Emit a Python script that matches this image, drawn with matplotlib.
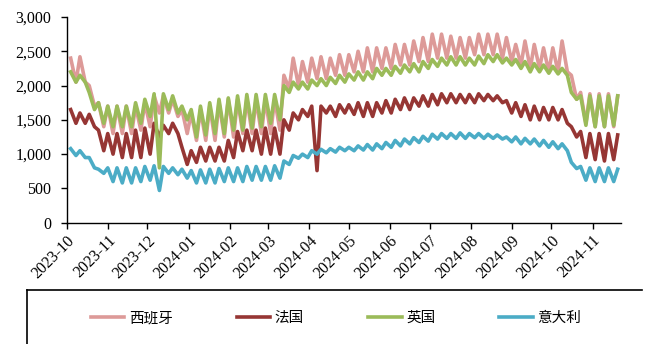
import numpy as np
import pandas as pd
import matplotlib
matplotlib.use("Agg")
import matplotlib.pyplot as plt
import matplotlib.dates as mdates
from matplotlib.ticker import FuncFormatter
from matplotlib.lines import Line2D

# ----------------------------------------------------
# Data: weekly high (weekday) / low (weekend) levels
# weeks start on Monday 2023-10-02; the last week has only its high value
# ----------------------------------------------------

week_start = "2023-10-02"

spain_hi = [2400, 2420, 2000, 1750, 1700, 1700, 1700, 1700, 1750, 1850,
            1850, 1800, 1650, 1600, 1650, 1700, 1750, 1800, 1800, 1800,
            1800, 1800, 1800, 2150, 2400, 2350, 2400, 2420, 2400, 2450,
            2450, 2500, 2550, 2550, 2550, 2600, 2600, 2650, 2700, 2750,
            2750, 2720, 2700, 2700, 2750, 2750, 2750, 2700, 2600, 2650,
            2600, 2550, 2550, 2650, 2150, 1900, 1880, 1880, 1880, 1850]
spain_lo = [2050, 2050, 1700, 1400, 1300, 1300, 1300, 1350, 1400, 1600,
            1600, 1550, 1300, 1200, 1200, 1200, 1250, 1250, 1300, 1300,
            1300, 1300, 1350, 1950, 2000, 2050, 2100, 2100, 2150, 2150,
            2200, 2200, 2200, 2250, 2250, 2300, 2300, 2350, 2350, 2400,
            2400, 2400, 2400, 2450, 2450, 2450, 2400, 2350, 2300, 2250,
            2250, 2200, 2200, 2200, 1800, 1450, 1400, 1400, 1400]

france_hi = [1650, 1600, 1580, 1350, 1300, 1300, 1300, 1350, 1380, 1450,
             1420, 1450, 1100, 1050, 1100, 1100, 1100, 1200, 1330, 1350,
             1350, 1380, 1380, 1500, 1600, 1650, 1700, 1700, 1700, 1720,
             1720, 1750, 1750, 1750, 1780, 1800, 1820, 1820, 1850, 1870,
             1880, 1880, 1870, 1870, 1880, 1870, 1850, 1780, 1750, 1720,
             1700, 1680, 1680, 1650, 1400, 1330, 1300, 1300, 1300, 1280]
france_lo = [1450, 1450, 1400, 1050, 1000, 950, 950, 950, 1000, 1250,
             1300, 1300, 850, 880, 900, 900, 900, 950, 1050, 1050,
             1000, 1000, 1000, 1350, 1500, 1550, 760, 1600, 1550, 1600,
             1580, 1550, 1550, 1600, 1600, 1650, 1650, 1700, 1700, 1720,
             1750, 1750, 1750, 1750, 1780, 1780, 1750, 1600, 1550, 1500,
             1500, 1500, 1500, 1450, 1250, 950, 920, 900, 920]

uk_hi = [2200, 2150, 1900, 1750, 1700, 1700, 1700, 1750, 1800, 1880,
         1880, 1850, 1700, 1650, 1700, 1750, 1800, 1820, 1850, 1870,
         1870, 1870, 1870, 2000, 2050, 2050, 2080, 2100, 2120, 2150,
         2170, 2200, 2200, 2250, 2250, 2280, 2300, 2320, 2350, 2380,
         2400, 2420, 2420, 2400, 2430, 2450, 2450, 2400, 2380, 2350,
         2320, 2300, 2280, 2250, 1900, 1850, 1850, 1850, 1850, 1850]
uk_lo = [2050, 2050, 1650, 1450, 1400, 1400, 1400, 1450, 1550, 800,
         1650, 1600, 1500, 1250, 1280, 1300, 1300, 1350, 1350, 1380,
         1400, 1450, 1500, 1900, 1950, 1950, 2000, 2000, 2030, 2050,
         2080, 2080, 2100, 2150, 2150, 2180, 2200, 2200, 2250, 2280,
         2300, 2300, 2300, 2300, 2320, 2350, 2330, 2300, 2250, 2200,
         2200, 2180, 2170, 2150, 1800, 1420, 1400, 1400, 1420]

italy_hi = [1080, 1050, 950, 780, 800, 800, 800, 800, 820, 830,
            820, 800, 780, 760, 770, 780, 790, 800, 800, 820,
            820, 820, 830, 900, 980, 1000, 1050, 1070, 1080, 1100,
            1100, 1120, 1140, 1150, 1170, 1200, 1220, 1240, 1260, 1290,
            1300, 1300, 1310, 1300, 1300, 1290, 1280, 1250, 1250, 1230,
            1220, 1200, 1180, 1150, 880, 820, 800, 800, 800, 780]
italy_lo = [980, 950, 800, 720, 600, 580, 580, 600, 620, 470,
            720, 700, 650, 580, 580, 580, 600, 600, 600, 620,
            620, 620, 650, 850, 940, 950, 1000, 1020, 1030, 1050,
            1050, 1060, 1060, 1080, 1100, 1120, 1150, 1170, 1190, 1220,
            1230, 1230, 1230, 1240, 1230, 1230, 1220, 1180, 1150, 1150,
            1120, 1100, 1080, 1050, 790, 620, 600, 600, 600]

series_names = ["西班牙", "法国", "英国", "意大利"]
series_colors = ["#DD9A98", "#963634", "#9BBB59", "#4BACC6"]

# ----------------------------------------------------
# Build the time axis: weekday value mid-week, weekend value on Sunday
# ----------------------------------------------------

n_weeks = len(spain_hi)
mondays = pd.date_range(week_start, periods=n_weeks, freq="7D")
hi_dates = mondays + pd.Timedelta(days=2)
lo_dates = mondays + pd.Timedelta(days=6)


def zigzag(hi, lo):
    """Interleave weekly highs and lows into one dated line."""
    dates, vals = [], []
    for i in range(len(hi)):
        dates.append(hi_dates[i])
        vals.append(hi[i])
        if i < len(lo):
            dates.append(lo_dates[i])
            vals.append(lo[i])
    return dates, vals


all_series = [(spain_hi, spain_lo), (france_hi, france_lo),
              (uk_hi, uk_lo), (italy_hi, italy_lo)]

# ----------------------------------------------------
# Plot
# ----------------------------------------------------

plt.rcParams["font.family"] = ["Liberation Serif", "DejaVu Serif"]

fig = plt.figure(figsize=(6.5, 3.44), dpi=100)
ax = fig.add_axes([0.1026, 0.3526, 0.8528, 0.598])

handles = []
for (hi, lo), name, color in zip(all_series, series_names, series_colors):
    d, v = zigzag(hi, lo)
    line, = ax.plot(d, v, color=color, lw=2.6, label=name,
                    solid_joinstyle="round")
    handles.append(line)

ax.set_ylim(0, 3000)
ax.set_yticks(np.arange(0, 3001, 500))
ax.yaxis.set_major_formatter(FuncFormatter(lambda v, p: f"{int(v):,}"))

ax.set_xlim(pd.Timestamp("2023-10-01"), pd.Timestamp("2024-11-22 12:00"))
ax.xaxis.set_major_locator(mdates.MonthLocator())
ax.xaxis.set_major_formatter(mdates.DateFormatter("%Y-%m"))

for lbl in ax.get_xticklabels():
    lbl.set_rotation(45)
    lbl.set_ha("right")
    lbl.set_rotation_mode("anchor")

ax.tick_params(axis="both", direction="out", length=4, width=1,
               labelsize=11.5, color="black")
ax.tick_params(axis="x", pad=3)
ax.tick_params(axis="y", pad=7)

ax.spines["top"].set_visible(False)
ax.spines["right"].set_visible(False)
ax.spines["left"].set_linewidth(1)
ax.spines["bottom"].set_linewidth(1)

# legend box frame (top and left edges only visible)
fig.add_artist(Line2D([27 / 650, 642 / 650], [1 - 290 / 344, 1 - 290 / 344],
                      color="black", lw=1.2, transform=fig.transFigure))
fig.add_artist(Line2D([27 / 650, 27 / 650], [1 - 290 / 344, 0],
                      color="black", lw=1.2, transform=fig.transFigure))

fig.legend(handles=handles, loc="center", bbox_to_anchor=(0.517, 1 - 318 / 344),
           ncol=4, frameon=False, handlelength=2.3, handletextpad=0.3,
           columnspacing=4.4,
           prop={"family": ["Noto Sans CJK SC", "DejaVu Sans"], "size": 10.5})

fig.savefig("out.png", dpi=100)
